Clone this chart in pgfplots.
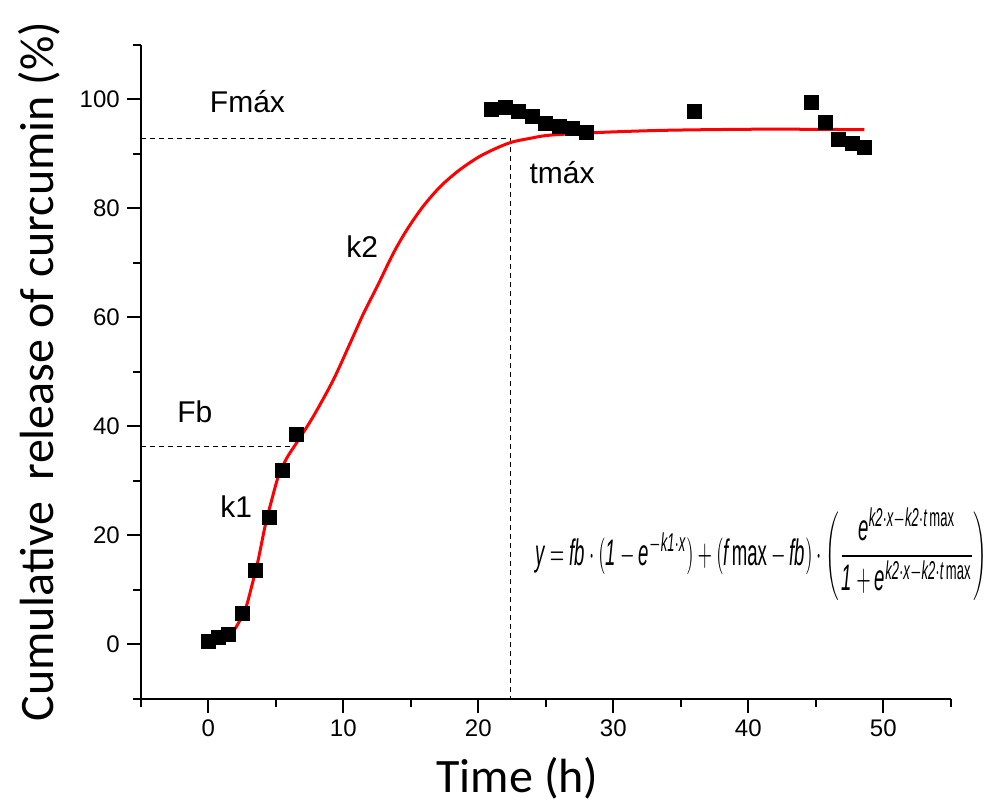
\documentclass[border=0pt]{standalone}
\usepackage{amsmath}
\usepackage{fontspec}
\setmainfont{Liberation Sans}
\newfontfamily\calib{Carlito}
\usepackage{pgfplots}
\pgfplotsset{compat=1.18}
\begin{document}
\begin{tikzpicture}
\begin{axis}[
    name=ax,
    scale only axis,
    width=405pt, height=327pt,
    xmin=-5, xmax=55,
    ymin=-10, ymax=110,
    axis x line=bottom, axis y line=left,
    axis line style={-, line width=1pt},
    tick align=outside,
    xtick={0,10,...,50}, minor xtick={-5,5,...,55},
    ytick={0,20,...,100}, minor ytick={-10,10,...,110},
    major tick length=7pt, minor tick length=4pt,
    tick style={line width=0.9pt, black},
    /pgf/number format/assume math mode=true,
    ticklabel style={font=\fontsize{12}{14}\selectfont},
    xlabel={Time (h)},
    ylabel={Cumulative\ \ release of curcumin (\%)},
    label style={font=\calib\fontsize{24}{28}\selectfont},
    xlabel style={at={(axis description cs:0.465,0)}, anchor=north, yshift=-26pt},
    ylabel style={yshift=3pt},
    clip=false,
]
% dashed guide lines
\addplot[black, line width=0.5pt, dash pattern=on 2.5pt off 2pt] coordinates {(-5,92.8) (22.4,92.8)};
\addplot[black, line width=0.5pt, dash pattern=on 2.5pt off 2pt] coordinates {(22.4,92.8) (22.4,-10)};
\addplot[black, line width=0.5pt, dash pattern=on 2.5pt off 2pt] coordinates {(-5,36.3) (6.3,36.3)};

% experimental data
\addplot[only marks, mark=square*, mark size=3.5pt, black] coordinates {
    (0,0.5) (0.75,1.2) (1.5,1.8) (2.5,5.7) (3.5,13.5) (4.5,23.3) (5.5,31.8) (6.5,38.5)
    (21,98.1) (22,98.5) (23,97.8) (24,96.8) (25,95.6) (26,95.0) (27,94.7) (28,93.9)
    (36,97.8) (44.7,99.4) (45.7,95.7) (46.7,92.7) (47.7,91.9) (48.6,91.1)
};

% fitted curve
\addplot[red, line width=1.5pt, smooth] coordinates {
    (0,0.3) (1,1.1) (1.85,2.4) (2.72,6.3) (3.21,10.6) (3.7,15.5) (4.2,21.6) (4.7,26.5)
    (5.19,30.8) (5.8,34.1) (6.5,36.8) (7.78,41.8) (9.26,48.5) (10.5,55.2) (11.5,60.7)
    (12.5,65.6) (13.7,71.7) (14.7,76.0) (15.9,80.3) (17.2,84.0) (18.6,87.0) (20.1,89.5)
    (21.6,91.3) (22.6,92.2) (23.8,92.8) (25.3,93.4) (29,93.9) (34,94.3) (41.4,94.5) (48.6,94.4)
};

\node[font=\fontsize{15}{18}\selectfont] at (axis cs:2.9,99.5) {Fmáx};
\node[font=\fontsize{15}{18}\selectfont] at (axis cs:26.2,86.5) {tmáx};
\node[font=\fontsize{15}{18}\selectfont] at (axis cs:11.4,72.9) {k2};
\node[font=\fontsize{15}{18}\selectfont] at (axis cs:-1.0,42.6) {Fb};
\node[font=\fontsize{15}{18}\selectfont] at (axis cs:2.06,25.2) {k1};

\node[anchor=west, inner sep=0pt] at (axis cs:24.2,16.5) {\resizebox*{226pt}{46pt}{%
  $\textit{y} = \textit{fb}\cdot(\textit{1}-\textit{e}^{-\textit{k1}\cdot\textit{x}})+(\textit{f}\,\textrm{max}-\textit{fb})\cdot\left(\dfrac{\textit{e}^{\textit{k2}\cdot\textit{x}-\textit{k2}\cdot\textit{t}\,\textrm{max}}}{\textit{1}+\textit{e}^{\textit{k2}\cdot\textit{x}-\textit{k2}\cdot\textit{t}\,\textrm{max}}}\right)$}};

\coordinate (bl) at (axis cs:-15.43,-30.2);
\coordinate (tr) at (axis cs:57.68,118.2);
\end{axis}
\pgfresetboundingbox
\path[use as bounding box] (bl) rectangle (tr);
\end{tikzpicture}
\end{document}
